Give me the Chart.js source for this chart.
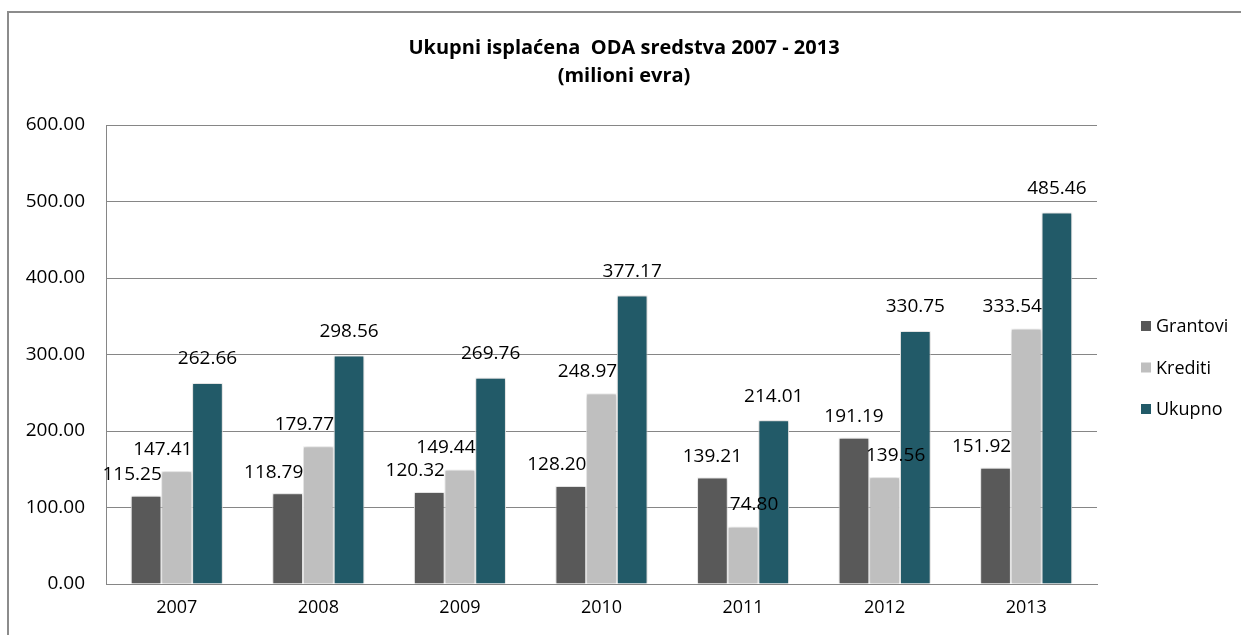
<!DOCTYPE html>
<html>
<head>
<meta charset="utf-8">
<script src="https://cdn.jsdelivr.net/npm/chart.js@4.4.1/dist/chart.umd.min.js"></script>
<style>
  html, body { margin: 0; padding: 0; background: #fff; }
  #wrap { width: 1241px; height: 635px; position: relative; }
</style>
</head>
<body>
<div id="wrap"><canvas id="c" width="1241" height="635"></canvas></div>
<script>
const titleLines = ['Ukupni isplaćena  ODA sredstva 2007 - 2013', '(milioni evra)'];
const categories = ['2007', '2008', '2009', '2010', '2011', '2012', '2013'];
const seriesNames = ['Grantovi', 'Krediti', 'Ukupno'];
const grantovi = [115.25, 118.79, 120.32, 128.20, 139.21, 191.19, 151.92];
const krediti  = [147.41, 179.77, 149.44, 248.97, 74.80, 139.56, 333.54];
const ukupno   = [262.66, 298.56, 269.76, 377.17, 214.01, 330.75, 485.46];
const yTicks = [0, 100, 200, 300, 400, 500, 600];

const seriesColors = ['#595959', '#BFBFBF', '#225A68'];
const FONT = '"Open Sans", "DejaVu Sans", sans-serif';
const GRID = '#868686';

const framePlugin = {
  id: 'frame',
  beforeDraw(chart) {
    const ctx = chart.ctx;
    ctx.save();
    ctx.fillStyle = '#fff';
    ctx.fillRect(0, 0, chart.width, chart.height);
    ctx.strokeStyle = '#8c8c8c';
    ctx.lineWidth = 2;
    ctx.strokeRect(8, 12, chart.width + 50, chart.height + 50);
    // title
    ctx.fillStyle = '#000';
    ctx.font = 'bold 20px ' + FONT;
    ctx.textAlign = 'center';
    ctx.textBaseline = 'middle';
    ctx.fillText(titleLines[0], 624, 48);
    ctx.fillText(titleLines[1], 624, 76);
    ctx.restore();
  },
  beforeDatasetsDraw(chart) {
    const ctx = chart.ctx;
    ctx.save();
    ctx.shadowColor = 'rgba(0,0,0,0.28)';
    ctx.shadowBlur = 4;
    ctx.shadowOffsetX = 0;
    ctx.shadowOffsetY = 0;
  },
  afterDatasetsDraw(chart) {
    const ctx = chart.ctx;
    ctx.restore();
    ctx.save();
    ctx.fillStyle = '#000';
    ctx.font = '19px ' + FONT;
    ctx.textAlign = 'center';
    ctx.textBaseline = 'middle';
    const g = chart.data.datasets[0].data;
    const k = chart.data.datasets[1].data;
    chart.data.datasets.forEach((ds, di) => {
      const meta = chart.getDatasetMeta(di);
      meta.data.forEach((el, i) => {
        const v = ds.data[i];
        let dx = 0, dy = -23;
        if (di === 0) { dx = g[i] > k[i] ? 0 : -14; dy = -21; }
        if (di === 1) { dx = g[i] > k[i] ? 11 : -14; dy = -22; }
        if (di === 2) { dx = 0; dy = -24; }
        ctx.fillText(v.toFixed(2), el.x + dx, el.y + dy);
      });
    });
    // legend
    ctx.textAlign = 'left';
    ctx.font = '18px ' + FONT;
    chart.data.datasets.forEach((ds, di) => {
      const cy = 326 + di * 41.5;
      ctx.fillStyle = ds.backgroundColor;
      ctx.fillRect(1141, cy - 5, 10, 10);
      ctx.fillStyle = '#000';
      ctx.fillText(ds.label, 1156, cy + 1);
    });
    ctx.restore();
  }
};

new Chart(document.getElementById('c'), {
  type: 'bar',
  data: {
    labels: categories,
    datasets: [
      { label: seriesNames[0], data: grantovi, backgroundColor: seriesColors[0] },
      { label: seriesNames[1], data: krediti, backgroundColor: seriesColors[1] },
      { label: seriesNames[2], data: ukupno, backgroundColor: seriesColors[2] }
    ]
  },
  options: {
    responsive: false,
    animation: false,
    devicePixelRatio: 1,
    layout: { padding: { top: 125, right: 144, left: 0, bottom: 0 } },
    datasets: {
      bar: {
        categoryPercentage: 0.65,
        barPercentage: 1,
        borderWidth: 1,
        borderColor: '#ffffff'
      }
    },
    plugins: {
      legend: { display: false },
      title: { display: false },
      tooltip: { enabled: false }
    },
    scales: {
      x: {
        grid: { display: false, drawTicks: false },
        border: { display: true, color: GRID, width: 1 },
        ticks: { color: '#000', font: { family: FONT, size: 18 }, padding: 13 },
        afterFit(scale) { scale.height = 51; }
      },
      y: {
        min: 0,
        max: 600,
        afterBuildTicks(scale) { scale.ticks = yTicks.map(v => ({ value: v })); },
        grid: { color: GRID, lineWidth: 1, drawTicks: false },
        border: { display: true, color: GRID, width: 1 },
        ticks: {
          color: '#000',
          font: { family: FONT, size: 19 },
          padding: 21,
          callback: (v) => Number(v).toFixed(2)
        },
        afterFit(scale) { scale.width = 106; }
      }
    }
  },
  plugins: [framePlugin]
});
</script>
</body>
</html>
